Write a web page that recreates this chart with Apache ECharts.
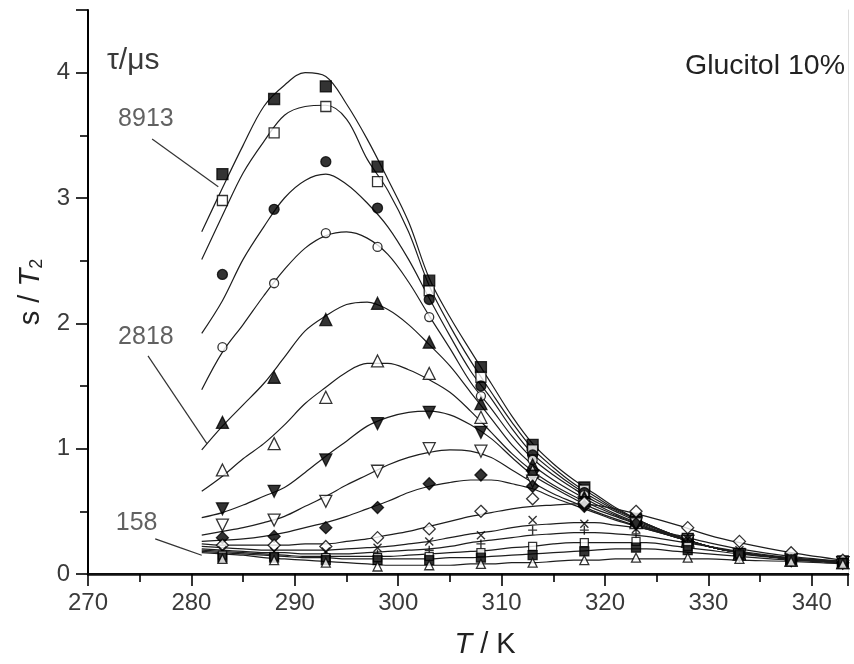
<!DOCTYPE html>
<html><head><meta charset="utf-8">
<script src="https://cdn.jsdelivr.net/npm/echarts@6/dist/echarts.min.js"></script>
<style>html,body{margin:0;padding:0;background:#fff}#c{width:854px;height:664px}</style>
</head><body><div id="c"></div>
<script>
// ---- data ----
const fitT = [281, 283, 285, 287, 289, 291, 293, 295, 297, 299, 301, 303, 305, 307, 309, 311, 313, 315, 317, 319, 321, 324, 327, 330, 333, 338, 343];
const markT = [283, 288, 293, 298, 303, 308, 313, 318, 323, 328, 333, 338, 343];

const fit1  = [2.73, 3.08, 3.42, 3.73, 3.90, 4.00, 3.97, 3.75, 3.47, 3.15, 2.81, 2.36, 2.05, 1.78, 1.52, 1.26, 1.04, 0.88, 0.75, 0.64, 0.53, 0.40, 0.30, 0.22, 0.17, 0.12, 0.09];
const fit2  = [2.51, 2.86, 3.20, 3.45, 3.66, 3.73, 3.74, 3.63, 3.31, 3.06, 2.73, 2.30, 1.98, 1.70, 1.45, 1.21, 1.00, 0.85, 0.72, 0.62, 0.52, 0.40, 0.30, 0.22, 0.17, 0.12, 0.09];
const fit3  = [1.92, 2.18, 2.51, 2.77, 3.00, 3.14, 3.19, 3.11, 2.96, 2.77, 2.51, 2.20, 1.90, 1.62, 1.40, 1.16, 0.96, 0.82, 0.70, 0.60, 0.51, 0.40, 0.30, 0.22, 0.17, 0.12, 0.09];
const fit4  = [1.47, 1.77, 1.99, 2.22, 2.43, 2.60, 2.70, 2.73, 2.68, 2.55, 2.33, 2.06, 1.80, 1.53, 1.32, 1.10, 0.92, 0.79, 0.68, 0.58, 0.50, 0.39, 0.30, 0.22, 0.17, 0.12, 0.09];
const fit5  = [0.99, 1.18, 1.35, 1.52, 1.73, 1.94, 2.06, 2.15, 2.17, 2.11, 1.99, 1.83, 1.66, 1.45, 1.24, 1.03, 0.87, 0.75, 0.65, 0.56, 0.48, 0.38, 0.29, 0.22, 0.17, 0.12, 0.09];
const fit6  = [0.66, 0.78, 0.92, 1.04, 1.19, 1.36, 1.49, 1.61, 1.68, 1.68, 1.63, 1.55, 1.45, 1.30, 1.13, 0.96, 0.82, 0.71, 0.62, 0.54, 0.47, 0.37, 0.29, 0.22, 0.17, 0.12, 0.09];
const fit7  = [0.45, 0.49, 0.55, 0.62, 0.69, 0.81, 0.94, 1.06, 1.18, 1.25, 1.29, 1.30, 1.27, 1.19, 1.08, 0.93, 0.79, 0.69, 0.60, 0.52, 0.46, 0.37, 0.29, 0.22, 0.17, 0.12, 0.09];
const fit8  = [0.31, 0.34, 0.37, 0.41, 0.46, 0.54, 0.62, 0.71, 0.79, 0.87, 0.93, 0.97, 0.99, 0.98, 0.93, 0.83, 0.73, 0.64, 0.57, 0.50, 0.44, 0.36, 0.29, 0.22, 0.17, 0.12, 0.09];
const fit9  = [0.26, 0.27, 0.28, 0.30, 0.33, 0.37, 0.41, 0.46, 0.52, 0.58, 0.65, 0.70, 0.73, 0.75, 0.75, 0.72, 0.68, 0.61, 0.55, 0.49, 0.43, 0.36, 0.29, 0.22, 0.17, 0.12, 0.09];
const fit10 = [0.24, 0.23, 0.23, 0.23, 0.23, 0.24, 0.24, 0.26, 0.28, 0.31, 0.34, 0.38, 0.42, 0.46, 0.49, 0.52, 0.54, 0.55, 0.56, 0.55, 0.52, 0.46, 0.39, 0.31, 0.25, 0.17, 0.11];
const fit11 = [0.22, 0.21, 0.20, 0.19, 0.19, 0.19, 0.19, 0.20, 0.21, 0.22, 0.24, 0.26, 0.29, 0.32, 0.34, 0.37, 0.39, 0.40, 0.41, 0.41, 0.39, 0.36, 0.31, 0.25, 0.20, 0.14, 0.10];
const fit12 = [0.20, 0.19, 0.18, 0.17, 0.17, 0.16, 0.16, 0.16, 0.17, 0.18, 0.19, 0.20, 0.22, 0.25, 0.27, 0.29, 0.31, 0.32, 0.33, 0.33, 0.32, 0.30, 0.26, 0.22, 0.18, 0.13, 0.10];
const fit13 = [0.19, 0.18, 0.17, 0.16, 0.15, 0.14, 0.14, 0.14, 0.14, 0.14, 0.15, 0.16, 0.17, 0.18, 0.19, 0.21, 0.22, 0.24, 0.25, 0.25, 0.25, 0.25, 0.22, 0.19, 0.16, 0.12, 0.10];
const fit14 = [0.18, 0.17, 0.16, 0.15, 0.14, 0.13, 0.13, 0.12, 0.12, 0.12, 0.12, 0.12, 0.13, 0.13, 0.14, 0.15, 0.16, 0.17, 0.18, 0.19, 0.20, 0.20, 0.18, 0.16, 0.14, 0.11, 0.09];
const fit15 = [0.17, 0.16, 0.15, 0.13, 0.12, 0.11, 0.10, 0.09, 0.08, 0.07, 0.07, 0.07, 0.07, 0.08, 0.08, 0.09, 0.09, 0.10, 0.11, 0.11, 0.12, 0.12, 0.12, 0.12, 0.11, 0.10, 0.08];

const pts1  = [3.19, 3.79, 3.89, 3.25, 2.34, 1.65, 1.03, 0.69, 0.44, 0.28, 0.16, 0.12, 0.10];
const pts2  = [2.98, 3.52, 3.73, 3.13, 2.26, 1.57, 0.99, 0.67, 0.43, 0.28, 0.16, 0.12, 0.10];
const pts3  = [2.39, 2.91, 3.29, 2.92, 2.19, 1.50, 0.95, 0.65, 0.43, 0.27, 0.16, 0.12, 0.09];
const pts4  = [1.81, 2.32, 2.72, 2.61, 2.05, 1.42, 0.91, 0.63, 0.42, 0.27, 0.16, 0.12, 0.09];
const pts5  = [1.21, 1.57, 2.03, 2.16, 1.85, 1.36, 0.87, 0.61, 0.42, 0.27, 0.16, 0.11, 0.09];
const pts6  = [0.83, 1.04, 1.41, 1.70, 1.60, 1.25, 0.82, 0.59, 0.41, 0.26, 0.16, 0.11, 0.09];
const pts7  = [0.52, 0.66, 0.91, 1.20, 1.29, 1.13, 0.78, 0.57, 0.41, 0.26, 0.15, 0.11, 0.09];
const pts8  = [0.39, 0.43, 0.58, 0.82, 1.00, 0.98, 0.74, 0.55, 0.40, 0.26, 0.15, 0.11, 0.09];
const pts9  = [0.29, 0.30, 0.37, 0.53, 0.72, 0.79, 0.70, 0.54, 0.40, 0.26, 0.15, 0.11, 0.09];
const pts10 = [0.23, 0.23, 0.22, 0.29, 0.36, 0.50, 0.60, 0.57, 0.50, 0.37, 0.26, 0.17, 0.11];
const pts11 = [0.19, 0.18, 0.18, 0.21, 0.26, 0.31, 0.43, 0.40, 0.36, 0.28, 0.19, 0.13, 0.10];
const pts12 = [0.16, 0.16, 0.15, 0.16, 0.19, 0.24, 0.35, 0.35, 0.32, 0.25, 0.17, 0.12, 0.09];
const pts13 = [0.15, 0.14, 0.13, 0.13, 0.14, 0.17, 0.22, 0.25, 0.26, 0.22, 0.16, 0.12, 0.09];
const pts14 = [0.13, 0.13, 0.11, 0.11, 0.11, 0.13, 0.15, 0.18, 0.21, 0.19, 0.15, 0.11, 0.09];
const pts15 = [0.12, 0.11, 0.09, 0.06, 0.07, 0.08, 0.09, 0.11, 0.13, 0.13, 0.12, 0.10, 0.08];

const fits = [fit1, fit2, fit3, fit4, fit5, fit6, fit7, fit8, fit9, fit10, fit11, fit12, fit13, fit14, fit15];
const pts  = [pts1, pts2, pts3, pts4, pts5, pts6, pts7, pts8, pts9, pts10, pts11, pts12, pts13, pts14, pts15];

const xTicks = [270, 280, 290, 300, 310, 320, 330, 340];
const yTicks = [0, 1, 2, 3, 4];

// annotation texts (data coordinates)
const tauLabels = ['8913', '2818', '158'];
const tauLabelPos = [[275.6, 3.63], [275.6, 1.89], [274.7, 0.41]];
const leader8913 = [[276.2, 3.47], [282.6, 3.09]];
const leader2818 = [[275.8, 1.74], [281.5, 1.04]];
const leader158  = [[276.5, 0.28], [278.9, 0.21], [281.0, 0.15]];

// ---- styles ----
const CROSS = 'path://M0,0L10,10M10,0L0,10';
const PLUS  = 'path://M5,0L5,10M0,5L10,5';
const markerStyles = [
  {s:'rect', f:true, z:11}, {s:'rect', f:false, z:10}, {s:'circle', f:true, z:10}, {s:'circle', f:false, z:9},
  {s:'triangle', f:true, z:12}, {s:'triangle', f:false, z:12}, {s:'triangle', f:true, z:12, r:180}, {s:'triangle', f:false, z:12, r:180},
  {s:'diamond', f:true, z:12}, {s:'diamond', f:false, z:12}, {s:CROSS, f:false, z:8, line:true}, {s:PLUS, f:false, z:9, line:true},
  {s:'rect', f:false, z:8}, {s:'rect', f:true, z:9}, {s:'triangle', f:false, z:9}
];
const FONT = '"Liberation Sans", Arial, sans-serif';
const TXT = '#3a3a3a';

const series = [];
fits.forEach((f) => {
  series.push({
    type: 'line', smooth: 0.35, showSymbol: false, silent: true,
    data: fitT.map((t, k) => [t, f[k]]),
    lineStyle: { color: '#1e1e1e', width: 1.2 }, z: 2
  });
});
pts.forEach((p, i) => {
  const m = markerStyles[i];
  series.push({
    type: 'scatter', symbol: m.s, symbolSize: m.z, symbolRotate: m.r || 0,
    data: markT.map((t, k) => [t, p[k]]),
    itemStyle: m.line ? { color: 'none', borderColor: '#000', borderWidth: 1.4 }
             : { color: m.f ? '#000' : '#fff', borderColor: '#000', borderWidth: 1.3 },
    z: 3, clip: false
  });
});
[leader8913, leader2818, leader158].forEach((L, i) => {
  series.push({ type: 'line', data: L, showSymbol: false, smooth: i === 2, silent: true,
    lineStyle: { color: '#333', width: 1.2 }, z: 4 });
});
series.push({
  type: 'scatter', symbolSize: 0, silent: true, z: 5,
  data: tauLabelPos.map((p, i) => [p[0], p[1], tauLabels[i]]),
  label: { show: true, position: 'inside', formatter: p => p.data[2], color: TXT, fontSize: 25, fontFamily: FONT }
});

const chart = echarts.init(document.getElementById('c'), null, { renderer: 'canvas' });
chart.setOption({
  animation: false,
  backgroundColor: '#fff',
  grid: { left: 88, right: 6, top: 10, bottom: 88 },
  xAxis: [{
    type: 'value', min: 270, max: 343.5, interval: 10,
    axisLine: { show: true, lineStyle: { color: '#000', width: 2 } },
    axisTick: { show: true, inside: false, length: 12, lineStyle: { color: '#000', width: 1.6 } },
    minorTick: { show: true, splitNumber: 2, length: 8, lineStyle: { color: '#000', width: 1.6 } },
    axisLabel: { color: TXT, fontSize: 24, fontFamily: FONT, margin: 17,
      formatter: v => xTicks.includes(v) ? String(v) : '' },
    splitLine: { show: false },
    name: '{i|T} / K', nameLocation: 'middle', nameGap: 56,
    nameTextStyle: { color: '#222', fontSize: 29, fontFamily: FONT, padding: [0, 0, 0, 34],
      rich: { i: { fontStyle: 'italic', fontSize: 29, fontFamily: FONT, color: '#222' } } }
  }, {
    type: 'value', position: 'top', min: 270, max: 343.5,
    axisLine: { show: true, lineStyle: { color: '#111', width: 2.5 } },
    axisTick: { show: false }, axisLabel: { show: false }, splitLine: { show: false }
  }],
  yAxis: [{
    type: 'value', min: 0, max: 4.5, interval: 1,
    axisLine: { show: true, lineStyle: { color: '#000', width: 2 } },
    axisTick: { show: true, inside: false, length: 12, lineStyle: { color: '#000', width: 1.6 } },
    minorTick: { show: true, splitNumber: 2, length: 8, lineStyle: { color: '#000', width: 1.6 } },
    axisLabel: { color: TXT, fontSize: 24, fontFamily: FONT, margin: 18,
      formatter: v => yTicks.includes(v) ? String(v) : '' },
    splitLine: { show: false },
    name: 's / {i|T}{s|2}', nameLocation: 'middle', nameGap: 37, nameRotate: 90,
    nameTextStyle: { color: '#222', fontSize: 29, fontFamily: FONT,
      rich: { i: { fontStyle: 'italic', fontSize: 29, fontFamily: FONT, color: '#222' },
              s: { fontSize: 18, fontFamily: FONT, color: '#222', verticalAlign: 'bottom', padding: [12, 0, 0, 0] } } }
  }, {
    type: 'value', position: 'right', min: 0, max: 4.5,
    axisLine: { show: true, lineStyle: { color: '#ddd', width: 1 } },
    axisTick: { show: false }, axisLabel: { show: false }, splitLine: { show: false }
  }],
  graphic: [
    { type: 'text', left: 107, top: 46, style: { text: 'τ/μs', fontSize: 30, fontFamily: FONT, fill: TXT } },
    { type: 'text', right: 9, top: 52, style: { text: 'Glucitol 10%', fontSize: 28.5, fontFamily: FONT, fill: '#222' } }
  ],
  series: series
});
</script></body></html>
